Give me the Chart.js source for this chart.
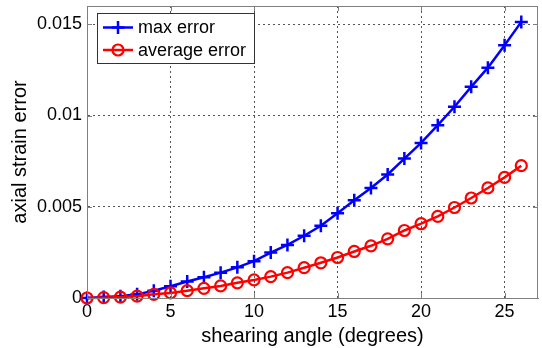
<!DOCTYPE html>
<html>
<head>
<meta charset="utf-8">
<script src="https://cdn.jsdelivr.net/npm/chart.js@4.4.1/dist/chart.umd.min.js"></script>
<style>
  html, body { margin: 0; padding: 0; background: #fff; }
  #wrap { width: 542px; height: 348px; }
</style>
</head>
<body>
<div id="wrap"><canvas id="strainChart" width="542" height="348"></canvas></div>
<script>
// shearing angle (degrees)
const angles = [0, 1, 2, 3, 4, 5, 6, 7, 8, 9, 10, 11, 12, 13, 14, 15, 16, 17, 18, 19, 20, 21, 22, 23, 24, 25, 26];
const maxError = [0, 0.00005, 0.0001, 0.0002, 0.0004, 0.00064, 0.0009, 0.00114, 0.00139, 0.00168,
    0.00202, 0.00249, 0.00291, 0.00341, 0.00396, 0.00465, 0.00535, 0.00603, 0.00677, 0.00764,
    0.0085, 0.00947, 0.01048, 0.01157, 0.01262, 0.01385, 0.01513];
const avgError = [0, 0.00002, 0.00005, 0.0001, 0.0002, 0.00028, 0.0004, 0.00053, 0.00066, 0.00083,
    0.00099, 0.00117, 0.00139, 0.00166, 0.00193, 0.00222, 0.00255, 0.00286, 0.00324, 0.0037,
    0.00407, 0.00447, 0.00496, 0.00548, 0.00603, 0.00661, 0.00725];
const xTicks = [0, 5, 10, 15, 20, 25];
const yTicks = [0, 0.005, 0.01, 0.015];
const yTickLabels = ["0", "0.005", "0.01", "0.015"];

const FONT = "'Liberation Sans', Arial, sans-serif";
const AXIS_GRAY = "#7f7f7f";

// box around the plot, inward ticks and the legend, matlab style
const matlabFrame = {
    id: "matlabFrame",
    afterDatasetsDraw(chart) {
        const { ctx, chartArea: a, scales } = chart;
        ctx.save();
        ctx.strokeStyle = AXIS_GRAY;
        ctx.lineWidth = 1;
        ctx.strokeRect(a.left + 0.5, a.top + 0.5, a.right - a.left - 1, a.bottom - a.top);
        ctx.beginPath();
        for (const v of xTicks) {
            const px = Math.round(scales.x.getPixelForValue(v)) + 0.5;
            ctx.moveTo(px, a.bottom); ctx.lineTo(px, a.bottom - 5);
            ctx.moveTo(px, a.top); ctx.lineTo(px, a.top + 5);
        }
        for (const v of yTicks) {
            const py = Math.round(scales.y.getPixelForValue(v)) + 0.5;
            ctx.moveTo(a.left, py); ctx.lineTo(a.left + 5, py);
            ctx.moveTo(a.right, py); ctx.lineTo(a.right - 5, py);
        }
        ctx.stroke();

        // legend
        const lx = 97, ly = 13, lw = 157, lh = 50;
        ctx.fillStyle = "#fff";
        ctx.fillRect(lx, ly, lw, lh);
        ctx.strokeStyle = "#333";
        ctx.strokeRect(lx + 0.5, ly + 0.5, lw, lh);
        chart.data.datasets.forEach((ds, i) => {
            const cy = ly + 14.5 + i * 22.5;
            const x1 = lx + 6, x2 = lx + 36, mx = (x1 + x2) / 2;
            ctx.strokeStyle = ds.borderColor;
            ctx.lineWidth = ds.borderWidth;
            ctx.beginPath(); ctx.moveTo(x1, cy); ctx.lineTo(x2, cy); ctx.stroke();
            ctx.lineWidth = ds.pointBorderWidth;
            ctx.beginPath();
            if (ds.pointStyle === "cross") {
                const r = ds.pointRadius;
                ctx.moveTo(mx - r, cy); ctx.lineTo(mx + r, cy);
                ctx.moveTo(mx, cy - r); ctx.lineTo(mx, cy + r);
            } else {
                ctx.arc(mx, cy, ds.pointRadius, 0, Math.PI * 2);
            }
            ctx.stroke();
            ctx.fillStyle = "#000";
            ctx.font = "18px " + FONT;
            ctx.textBaseline = "middle";
            ctx.fillText(ds.label, lx + 41, cy + 1);
        });
        ctx.restore();
    }
};

const ctx = document.getElementById("strainChart").getContext("2d");
new Chart(ctx, {
    type: "line",
    data: {
        datasets: [{
            label: "max error",
            data: angles.map((a, i) => ({ x: a, y: maxError[i] })),
            borderColor: "#0000ff",
            backgroundColor: "#0000ff",
            borderWidth: 2.5,
            pointStyle: "cross",
            pointRadius: 6.5,
            pointBorderWidth: 2.5,
            pointBorderColor: "#0000ff",
            fill: false,
            clip: false,
            order: 2
        }, {
            label: "average error",
            data: angles.map((a, i) => ({ x: a, y: avgError[i] })),
            borderColor: "#ff0000",
            backgroundColor: "rgba(0,0,0,0)",
            borderWidth: 2.5,
            pointStyle: "circle",
            pointRadius: 5.5,
            pointBorderWidth: 2.2,
            pointBorderColor: "#ff0000",
            fill: false,
            clip: false,
            order: 1
        }]
    },
    options: {
        responsive: false,
        animation: false,
        layout: { autoPadding: false, padding: { top: 6, right: 4, left: 0, bottom: 0 } },
        plugins: {
            legend: { display: false },
            tooltip: { enabled: false }
        },
        scales: {
            x: {
                type: "linear",
                min: 0,
                max: 27,
                afterBuildTicks: (scale) => { scale.ticks = xTicks.map(v => ({ value: v })); },
                afterFit: (scale) => {
                    scale.height = 50;
                    scale.paddingLeft = 0;
                    scale.paddingRight = 0;
                },
                ticks: {
                    color: "#000",
                    font: { family: FONT, size: 18 },
                    padding: 3,
                    maxRotation: 0,
                    autoSkip: false
                },
                grid: { color: "#555", drawTicks: false, lineWidth: 1 },
                border: { display: true, color: AXIS_GRAY, dash: [2, 3] },
                title: {
                    display: true,
                    text: "shearing angle (degrees)",
                    color: "#000",
                    font: { family: FONT, size: 20 },
                    padding: { top: 0, bottom: 0 }
                }
            },
            y: {
                min: 0,
                max: 0.016,
                afterBuildTicks: (scale) => { scale.ticks = yTicks.map(v => ({ value: v })); },
                afterFit: (scale) => {
                    scale.width = 87;
                    scale.paddingTop = 0;
                    scale.paddingBottom = 0;
                },
                ticks: {
                    color: "#000",
                    font: { family: FONT, size: 18 },
                    padding: 5,
                    callback: (v) => yTickLabels[yTicks.indexOf(v)]
                },
                grid: { color: "#555", drawTicks: false, lineWidth: 1 },
                border: { display: true, color: AXIS_GRAY, dash: [2, 3] },
                title: {
                    display: true,
                    text: "axial strain error",
                    color: "#000",
                    font: { family: FONT, size: 20 },
                    padding: { top: 8, bottom: 0 }
                }
            }
        }
    },
    plugins: [matlabFrame]
});
</script>
</body>
</html>
